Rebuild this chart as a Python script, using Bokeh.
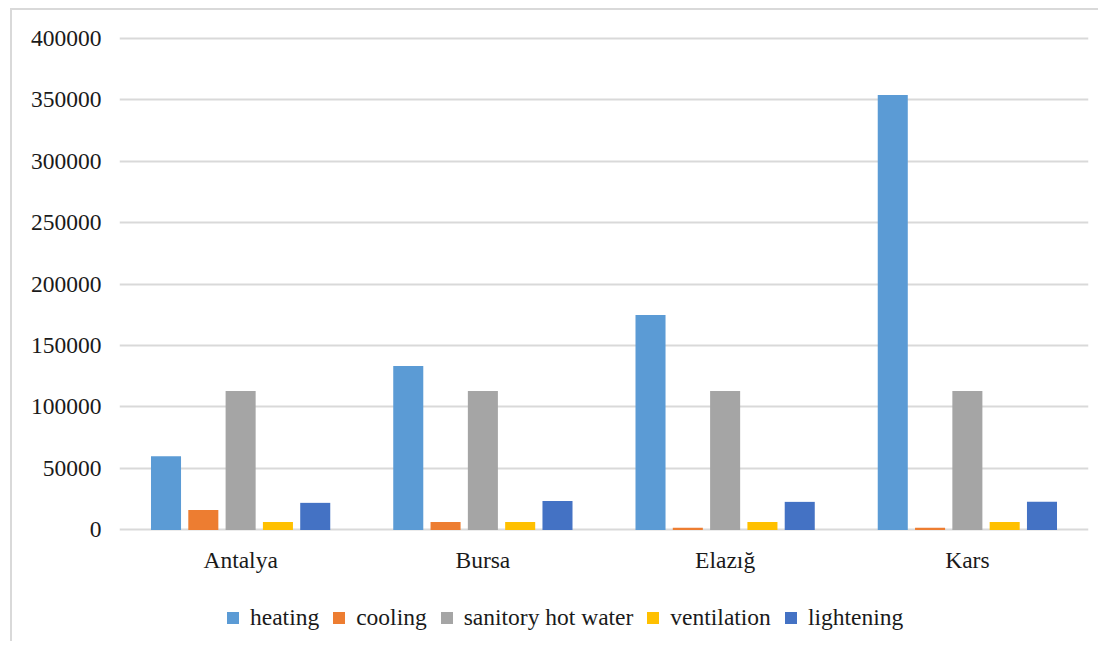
from bokeh.plotting import figure
from bokeh.layouts import column
from bokeh.models import (ColumnDataSource, FactorRange, Range1d, Legend, LegendItem,
                          SingleIntervalTicker, BasicTickFormatter)
from bokeh.transform import dodge
from bokeh.embed import file_html
from bokeh.resources import INLINE

cities = ["Antalya", "Bursa", "Elazığ", "Kars"]
series = ["heating", "cooling", "sanitory hot water", "ventilation", "lightening"]
heating = [60000, 133300, 174800, 353800]
cooling = [16200, 6500, 1800, 1800]
sanitory_hot_water = [113000, 113000, 113000, 113000]
ventilation = [6500, 6500, 6500, 6500]
lightening = [22000, 23500, 22800, 22800]
colors = ["#5B9BD5", "#ED7D31", "#A5A5A5", "#FFC000", "#4472C4"]

src = ColumnDataSource(dict(city=cities, heating=heating, cooling=cooling,
                            shw=sanitory_hot_water, ventilation=ventilation,
                            lightening=lightening))
cols = ["heating", "cooling", "shw", "ventilation", "lightening"]

FONT = "Liberation Serif"
TXT = "#1a1a1a"
FS = "23.5px"

xr = FactorRange(*cities, range_padding=0)
p = figure(x_range=xr, y_range=Range1d(-1300, 401300),
           frame_width=969, frame_height=495,
           min_border_left=107, min_border_right=10,
           min_border_top=26, min_border_bottom=60,
           output_backend="svg", toolbar_location=None,
           background_fill_color="white", border_fill_color="white")
p.outline_line_color = None

step = 0.154
for i, c in enumerate(cols):
    p.vbar(x=dodge("city", (i - 2) * step, range=xr), top=c, width=0.124,
           source=src, fill_color=colors[i], line_color=None)

p.xgrid.grid_line_color = None
p.ygrid.grid_line_color = "#d9d9d9"
p.ygrid.grid_line_width = 2
p.yaxis.ticker = SingleIntervalTicker(interval=50000)
p.yaxis.formatter = BasicTickFormatter(use_scientific=False)

for ax in (p.xaxis[0], p.yaxis[0]):
    ax.axis_line_color = None
    ax.major_tick_line_color = None
    ax.minor_tick_line_color = None
    ax.major_tick_out = 0
    ax.minor_tick_out = 0
    ax.major_label_text_font = FONT
    ax.major_label_text_font_size = FS
    ax.major_label_text_color = TXT
p.yaxis.major_label_standoff = 18
p.xaxis.major_label_standoff = 15

# legend strip (its bars lie outside its y range, only the legend shows)
lg = figure(x_range=xr, y_range=Range1d(1e7, 2e7),
            frame_width=969, frame_height=50,
            min_border_left=107, min_border_right=10,
            min_border_top=0, min_border_bottom=0,
            output_backend="svg", toolbar_location=None,
            background_fill_color="white", border_fill_color="white")
lg.outline_line_color = None
lg.axis.visible = False
lg.grid.visible = False
lrs = []
for i, c in enumerate(cols):
    lrs.append(lg.vbar(x=dodge("city", (i - 2) * step, range=xr), top=c, width=0.124,
                       source=src, fill_color=colors[i], line_color=None))

legend = Legend(items=[LegendItem(label=s, renderers=[r]) for s, r in zip(series, lrs)],
                orientation="horizontal", location=(106, 10),
                padding=0, margin=0, spacing=12, label_standoff=10,
                glyph_width=15, glyph_height=15,
                label_text_font=FONT, label_text_font_size=FS,
                label_text_color=TXT, border_line_color=None,
                background_fill_alpha=0)
lg.add_layout(legend, "center")

layout = column(p, lg, spacing=0)
layout.styles = {"border-left": "2px solid #d9d9d9", "border-top": "2px solid #d9d9d9",
                 "margin-left": "10px", "margin-top": "8px"}

open("out.html", "w").write(file_html(layout, INLINE))
